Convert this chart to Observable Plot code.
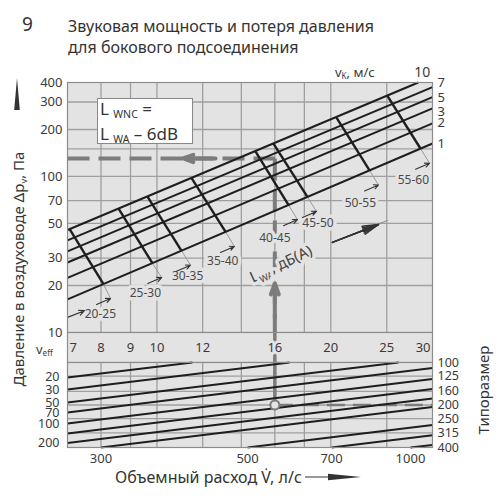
<!DOCTYPE html>
<html lang="ru">
<head>
<meta charset="utf-8">
<script src="https://cdn.jsdelivr.net/npm/d3@7"></script>
<script src="https://cdn.jsdelivr.net/npm/@observablehq/plot@0.6"></script>
<style>
  html, body { margin: 0; padding: 0; background: #fff; }
  #root { position: relative; width: 500px; height: 500px; overflow: hidden; font-family: "Noto Sans", "Open Sans", sans-serif; color: #333; }
  #root > svg { position: absolute; left: 0; }
  .t { position: absolute; white-space: nowrap; line-height: 1; }
  .t sub { font-size: 0.62em; vertical-align: baseline; position: relative; top: 0.3em; }
</style>
</head>
<body>
<div id="root"></div>
<script>
// ---------- TOP CHART: pressure loss Δp (Pa) vs effective velocity v_eff (m/s) ----------
// duct velocity lines v_K, m/s (end points)
const vkNames     = ["1", "2", "3", "5", "7", "10"];
const vkStartVeff = [7, 7, 7, 7, 7, 7];
const vkStartDp   = [16.3, 22.4, 28.1, 33.1, 38.9, 45.4];
const vkEndVeff   = [30, 30, 30, 30, 30, 28.35];
const vkEndDp     = [162.7, 219, 273, 322, 374, 400];
// where the v_K names are printed at the right edge
const vkLabelDp   = [163, 222, 261, 321, 396, 400];

// sound power boundaries L_WA (thick segments from v_K=10 to v_K=1, thin leader below)
const lwaTopVeff = [7.06, 8.58, 9.63, 11.48, 14.81, 15.92, 20.46, 25.08];
const lwaTopDp   = [45.9, 62.2, 74.3, 97.5, 144.9, 161.8, 238.6, 327.1];
const lwaBotVeff = [8.08, 9.82, 11.03, 13.15, 16.90, 18.22, 23.34, 28.61];
const lwaBotDp   = [20.4, 27.8, 33.4, 44.1, 65.6, 73.9, 109.3, 150.5];
const lwaEndVeff = [8.31, 10.19, 11.43, 13.62, 17.51, 18.89, 24.19, 29.65];
const lwaEndDp   = [16.5, 22.5, 27.0, 35.6, 52.9, 59.7, 88.2, 121.5];

// L_WA range labels, dB(A)
const lwaRanges    = ["20-25", "25-30", "30-35", "35-40", "40-45", "45-50", "50-55", "55-60"];
const lwaLabelVeff = [7.98, 9.55, 11.3, 13.0, 16.0, 19.0, 22.5, 27.8];
const lwaLabelDp   = [13.2, 17.8, 22.8, 28.5, 40.0, 50.0, 67.0, 94.4];

// small pointers along the label diagonal
const ptrFromVeff = [7.0, 7.86, 9.64, 10.81, 12.88, 16.56, 17.86, 22.88, 28.04];
const ptrFromDp   = [12.5, 15.1, 20.6, 24.7, 32.6, 48.4, 54.6, 80.7, 111.2];
const ptrToVeff   = [7.49, 8.31, 10.19, 11.43, 13.62, 17.51, 18.89, 24.19, 29.65];
const ptrToDp     = [13.8, 16.5, 22.5, 27.0, 35.6, 52.9, 59.7, 88.2, 121.5];

// big direction arrow and its caption
const bigArrowVeff = [20.13, 24.19, 25.08];
const bigArrowDp   = [37.8, 49.2, 52.3];
const lwaCaption   = {x: 16.4, y: 27.4, t: "L_{WA}, дБ(А)"};

// axes / grid
const dpTicks   = [10, 20, 30, 50, 70, 100, 200, 300, 400];
const dpGrid    = [20, 30, 50, 70, 100, 150, 200, 300];
const veffGrid  = [8, 9, 10, 12, 14, 16, 18, 20, 25];
const veffTicks = [7, 8, 9, 10, 12, 16, 20, 25, 30];

// worked example (dashed reading path)
const exampleVeff = 16, exampleDp = 130.4, exampleSize = 200;
const leftHeadVeff = [12.63, 11.1];
const upHeadDp     = [12.3, 20.6];

// ---------- BOTTOM CHART: size (Типоразмер) vs v_eff, lines of constant flow V (l/s) ----------
const sizeTicks = [100, 125, 160, 200, 250, 315, 400];
const sizeGrid  = [125, 160, 200, 250, 315];
const flowV         = [20, 30, 50, 70, 100, 150, 200, 300, 500, 700, 1000];
const flowStartVeff = [7, 7, 7, 7, 7, 7, 7, 8, 14.35, 20.06, 27.48];
const flowStartSize = [127.7, 155.4, 192.2, 226.3, 270.7, 318.7, 372.3, 400, 400, 400, 400];
const flowEndVeff   = [11.52, 16.97, 26.2, 30, 30, 30, 30, 30, 30, 30, 30];
const flowEndSize   = [100, 100, 100, 109.2, 130.7, 153.9, 179.8, 206.8, 277.1, 327.8, 383.5];
const flowLeftLabels   = [20, 30, 50, 70, 100, 200];
const flowBottomLabels = [300, 500, 700, 1000];

// ---------- styling ----------
const BG = "#e3e3e3", GRID = "#9f9f9f", EDGE = "#8c8c8c", INK = "#1e1e1e", DASH = "#7c7c7c", TXT = "#3a3a3a";
const FONT = '"Noto Sans", "Open Sans", sans-serif';
const ML = 67, MR = 68;
const X = {type: "log", domain: [7, 30], axis: null};
const baseStyle = {fontFamily: FONT, fontSize: "13px", color: TXT, background: "transparent", overflow: "visible"};
const L = {x1: "x1", y1: "y1", x2: "x2", y2: "y2"};

const vk = vkNames.map((name, i) => ({name, x1: vkStartVeff[i], y1: vkStartDp[i], x2: vkEndVeff[i], y2: vkEndDp[i], ly: vkLabelDp[i]}));
const lwa = lwaTopVeff.map((_, i) => ({x1: lwaTopVeff[i], y1: lwaTopDp[i], x2: lwaBotVeff[i], y2: lwaBotDp[i]}));
const leaders = lwaBotVeff.map((_, i) => ({x1: lwaBotVeff[i], y1: lwaBotDp[i], x2: lwaEndVeff[i], y2: lwaEndDp[i]}));
const ranges = lwaRanges.map((r, i) => ({r, x: lwaLabelVeff[i], y: lwaLabelDp[i]}));
const pointers = ptrFromVeff.map((_, i) => ({x1: ptrFromVeff[i], y1: ptrFromDp[i], x2: ptrToVeff[i], y2: ptrToDp[i]}));
const bigArrow = [{x1: bigArrowVeff[0], y1: bigArrowDp[0], x2: bigArrowVeff[1], y2: bigArrowDp[1]}];
const bigTail  = [{x1: bigArrowVeff[0], y1: bigArrowDp[0], x2: bigArrowVeff[2], y2: bigArrowDp[2]}];
const dashH = [{x1: 7, y1: exampleDp, x2: exampleVeff, y2: exampleDp}];
const dashV = [{x1: exampleVeff, y1: exampleDp, x2: exampleVeff, y2: 10}];
const headH = [{x1: leftHeadVeff[0], y1: exampleDp, x2: leftHeadVeff[1], y2: exampleDp}];
const headV = [{x1: exampleVeff, y1: upHeadDp[0], x2: exampleVeff, y2: upHeadDp[1]}];
const flows = flowV.map((v, i) => ({v, x1: flowStartVeff[i], y1: flowStartSize[i], x2: flowEndVeff[i], y2: flowEndSize[i]}));

// convert "A_{B}C" text into tspans with a subscript
function subify(svg) {
  d3.select(svg).selectAll("text").each(function () {
    const s = this.textContent;
    if (!s.includes("_{")) return;
    const el = d3.select(this);
    el.selectAll("*").remove();
    el.text(null);
    const re = /_\{([^}]*)\}/g;
    let last = 0, m, shifted = false;
    while ((m = re.exec(s))) {
      if (m.index > last) el.append("tspan").attr("dy", shifted ? -4 : null).text(s.slice(last, m.index));
      el.append("tspan").attr("dy", shifted ? 0 : 4).attr("font-size", "0.62em").text(m[1]);
      shifted = true; last = m.index + m[0].length;
    }
    if (last < s.length) el.append("tspan").attr("dy", shifted ? -4 : null).text(s.slice(last));
  });
  return svg;
}

const topPlot = Plot.plot({
  width: 500, height: 334, marginTop: 82, marginBottom: 2, marginLeft: ML, marginRight: MR,
  x: X,
  y: {type: "log", domain: [10, 400]},
  style: baseStyle,
  marks: [
    Plot.frame({fill: BG}),
    Plot.ruleX(veffGrid, {stroke: GRID, strokeWidth: 1.3}),
    Plot.ruleY(dpGrid, {stroke: GRID, strokeWidth: 1.3}),
    Plot.link(leaders, {...L, stroke: "#9a9a9a", strokeWidth: 1}),
    Plot.link(dashH, {...L, stroke: DASH, strokeWidth: 4, strokeDasharray: "22,9"}),
    Plot.link(dashV, {...L, stroke: DASH, strokeWidth: 4, strokeDasharray: "22,9"}),
    Plot.arrow(headH, {...L, stroke: DASH, strokeWidth: 4, headAngle: 40, headLength: 8}),
    Plot.arrow(headV, {...L, stroke: DASH, strokeWidth: 4, headAngle: 40, headLength: 8}),
    Plot.text(ranges, {x: "x", y: "y", text: "r", fontSize: 12, fill: "#4a4a4a", stroke: BG, strokeWidth: 7}),
    Plot.text([lwaCaption], {x: "x", y: "y", text: "t", rotate: -25, fontSize: 15, fill: "#444", stroke: BG, strokeWidth: 7}),
    Plot.arrow(pointers, {...L, stroke: "#333", strokeWidth: 1.1, headAngle: 50, headLength: 10}),
    Plot.link(bigTail, {...L, stroke: "#888", strokeWidth: 1}),
    Plot.arrow(bigArrow, {...L, stroke: "#333", strokeWidth: 1.5, headAngle: 10, headLength: 20}),
    Plot.arrow(bigArrow, {...L, stroke: "#333", strokeWidth: 1.5, headAngle: 20, headLength: 20}),
    Plot.arrow(bigArrow, {...L, stroke: "#333", strokeWidth: 1.5, headAngle: 30, headLength: 20}),
    Plot.link(vk, {...L, stroke: INK, strokeWidth: 2}),
    Plot.link(lwa, {...L, stroke: INK, strokeWidth: 2.4}),
    Plot.text(vk.filter(d => d.name !== "10"), {x: "x2", y: "ly", text: "name", textAnchor: "start", dx: 5, fontSize: 13, fill: TXT}),
    Plot.text(vk.filter(d => d.name === "10"), {x: "x2", y: "ly", text: "name", dx: 4, dy: -10, fontSize: 14, fill: TXT}),
    Plot.axisY({ticks: dpTicks, tickSize: 0, tickPadding: 5, tickFormat: d => String(d), label: null, fontSize: 13}),
    Plot.frame({stroke: EDGE, strokeWidth: 1.2})
  ]
});
topPlot.style.top = "0px";

const bandPlot = Plot.plot({
  width: 500, height: 32, marginTop: 1, marginBottom: 1, marginLeft: ML, marginRight: MR,
  x: X,
  style: baseStyle,
  marks: [
    Plot.frame({fill: BG}),
    Plot.ruleX([exampleVeff], {stroke: DASH, strokeWidth: 3.5}),
    Plot.text(veffTicks.slice(1, -1), {x: d => d, frameAnchor: "middle", fontSize: 13, fill: TXT, stroke: BG, strokeWidth: 6}),
    Plot.text(veffTicks.slice(0, 1), {x: d => d, frameAnchor: "middle", textAnchor: "start", dx: 2, fontSize: 13, fill: TXT}),
    Plot.text(veffTicks.slice(-1), {x: d => d, frameAnchor: "middle", textAnchor: "end", dx: -2, fontSize: 13, fill: TXT}),
    Plot.frame({stroke: EDGE, strokeWidth: 1.2})
  ]
});
bandPlot.style.top = "331px";

const bottomPlot = Plot.plot({
  width: 500, height: 108, marginTop: 1, marginBottom: 22, marginLeft: ML, marginRight: MR,
  x: X,
  y: {type: "log", domain: [100, 400], reverse: true},
  style: baseStyle,
  marks: [
    Plot.frame({fill: BG}),
    Plot.ruleX(veffGrid, {stroke: GRID, strokeWidth: 1.3}),
    Plot.ruleY(sizeGrid, {stroke: GRID, strokeWidth: 1.3}),
    Plot.link([{x1: exampleVeff, y1: exampleSize, x2: 30, y2: exampleSize}], {...L, stroke: DASH, strokeWidth: 2.5, strokeDasharray: "18,8"}),
    Plot.link([{x1: exampleVeff, y1: 100, x2: exampleVeff, y2: exampleSize}], {...L, stroke: DASH, strokeWidth: 3.5}),
    Plot.link(flows, {...L, stroke: INK, strokeWidth: 2}),
    Plot.dot([{x: exampleVeff, y: exampleSize}], {x: "x", y: "y", r: 4.5, stroke: DASH, strokeWidth: 2, fill: BG}),
    Plot.axisY({anchor: "right", ticks: sizeTicks, tickSize: 0, tickPadding: 5, tickFormat: d => String(d), label: null, fontSize: 12.5}),
    Plot.text(flows.filter(d => flowLeftLabels.includes(d.v)), {x: "x1", y: "y1", text: d => String(d.v), textAnchor: "end", dx: -8, fontSize: 12.5, fill: TXT}),
    Plot.text(flows.filter(d => flowBottomLabels.includes(d.v)), {x: "x1", y: "y1", text: d => String(d.v), dy: 11, fontSize: 13, fill: TXT}),
    Plot.frame({stroke: EDGE, strokeWidth: 1.2})
  ]
});
bottomPlot.style.top = "361px";

const root = document.getElementById("root");
root.append(subify(topPlot), bandPlot, bottomPlot);

root.insertAdjacentHTML("beforeend", `
  <div class="t" style="left:22px;top:15px;font-size:19px;color:#333">9</div>
  <div class="t" style="left:68px;top:18px;font-size:16px;color:#333">Звуковая мощность и потеря давления</div>
  <div class="t" style="left:68px;top:39px;font-size:16px;color:#333">для бокового подсоединения</div>
  <div class="t" style="left:335px;top:66px;font-size:13px;color:#3a3a3a">v<sub>K</sub>, м/с</div>
  <div class="t" style="left:36px;top:343px;font-size:13px;color:#3a3a3a">v<sub>eff</sub></div>
  <div style="position:absolute;left:97px;top:98px;width:94px;height:44px;background:#fff;border:1px solid #888;"></div>
  <div class="t" style="left:100px;top:100px;font-size:17px;color:#333">L <sub>WNC</sub> =</div>
  <div class="t" style="left:100px;top:125px;font-size:17px;color:#333">L <sub>WA</sub> – 6dB</div>
  <div class="t" style="left:18px;top:269px;font-size:15px;color:#333;transform:translate(-50%,-50%) rotate(-90deg)">Давление в воздуховоде Δp<sub>v</sub>, Па</div>
  <div class="t" style="left:483px;top:390px;font-size:15px;color:#333;transform:translate(-50%,-50%) rotate(-90deg)">Типоразмер</div>
  <div class="t" style="left:115px;top:469px;font-size:16px;color:#333">Объемный расход V̇, л/с</div>
  <svg style="position:absolute;left:0;top:0;pointer-events:none" width="500" height="500">
    <polygon points="17,78 14.2,110 19.8,110" fill="#333"/>
    <line x1="305" y1="477" x2="330" y2="477" stroke="#333" stroke-width="1"/>
    <polygon points="328,473.8 361,477 328,480.2" fill="#333"/>
  </svg>
`);
</script>
</body>
</html>
